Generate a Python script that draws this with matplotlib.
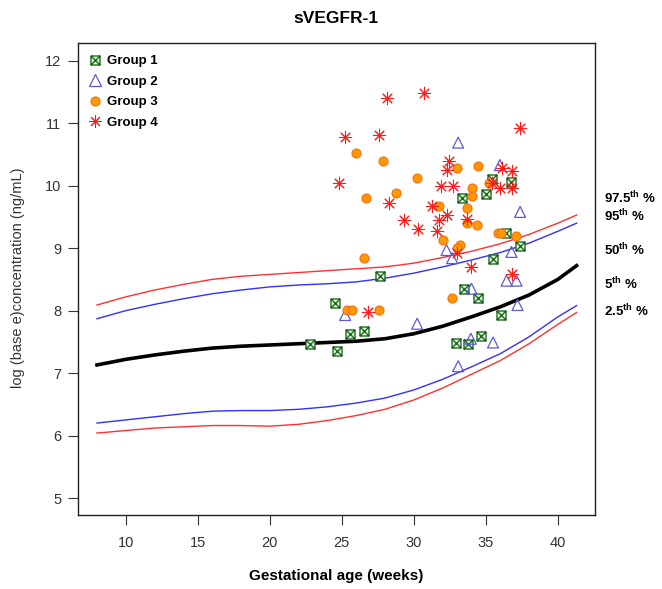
import numpy as np
import matplotlib
matplotlib.use("Agg")
import matplotlib.pyplot as plt
from matplotlib.path import Path
from matplotlib.lines import Line2D

plt.rcParams['font.family'] = ['Liberation Sans', 'DejaVu Sans']
plt.rcParams['mathtext.fontset'] = 'custom'
plt.rcParams['mathtext.rm'] = 'Liberation Sans'
plt.rcParams['mathtext.bf'] = 'Liberation Sans:bold'

# reference curves (gestational age vs log concentration)
curve_x = [8, 10, 12, 14, 16, 18, 20, 22, 24, 26, 28, 30, 32, 34, 36, 38, 40, 41.3]
p50 = [7.13, 7.22, 7.29, 7.35, 7.40, 7.43, 7.45, 7.47, 7.49, 7.51, 7.55, 7.63, 7.75, 7.90, 8.06, 8.25, 8.50, 8.72]
p95 = [7.87, 8.00, 8.10, 8.19, 8.27, 8.33, 8.38, 8.41, 8.43, 8.46, 8.52, 8.60, 8.70, 8.81, 8.93, 9.08, 9.27, 9.40]
p975 = [8.09, 8.22, 8.33, 8.42, 8.50, 8.55, 8.58, 8.61, 8.64, 8.67, 8.70, 8.76, 8.85, 8.95, 9.07, 9.22, 9.40, 9.53]
p5 = [6.20, 6.25, 6.30, 6.35, 6.39, 6.40, 6.40, 6.42, 6.46, 6.52, 6.60, 6.73, 6.90, 7.10, 7.31, 7.58, 7.90, 8.08]
p25 = [6.04, 6.08, 6.12, 6.14, 6.16, 6.16, 6.15, 6.18, 6.24, 6.32, 6.42, 6.57, 6.76, 6.98, 7.20, 7.47, 7.78, 7.97]

# observed samples
g1_x = [22.8, 24.5, 25.6, 26.55, 24.65, 27.64, 33.49, 34.47, 36.04, 32.96, 33.73, 34.65,
        37.38, 35.5, 36.37, 33.33, 35.0, 35.4, 36.76]
g1_y = [7.47, 8.13, 7.62, 7.68, 7.35, 8.55, 8.34, 8.20, 7.93, 7.48, 7.46, 7.60,
        9.04, 8.82, 9.24, 9.80, 9.86, 10.10, 10.06]

g2_x = [33.08, 35.97, 37.38, 36.78, 36.44, 37.13, 37.2, 35.5, 32.27, 32.66, 34.0, 30.23,
        33.96, 33.08, 25.23]
g2_y = [10.69, 10.33, 9.58, 8.94, 8.48, 8.48, 8.09, 7.49, 8.97, 8.84, 8.35, 7.79,
        7.55, 7.11, 7.93]

g3_x = [25.95, 27.87, 30.19, 28.73, 26.67, 26.55, 32.97, 34.47, 34.05, 34.05, 35.23, 31.76,
        33.68, 33.66, 34.4, 32.03, 33.24, 32.97, 35.85, 36.05, 37.06, 32.66, 25.33, 25.74,
        27.59]
g3_y = [10.52, 10.40, 10.13, 9.89, 9.80, 8.85, 10.28, 10.32, 9.96, 9.83, 10.04, 9.68,
        9.65, 9.40, 9.37, 9.13, 9.05, 9.01, 9.25, 9.24, 9.20, 8.21, 8.01, 8.01,
        8.01]

g4_x = [28.17, 25.23, 27.59, 24.81, 28.28, 29.3, 30.3, 30.69, 37.36, 32.45, 32.27, 31.92,
        32.69, 36.09, 36.85, 35.97, 36.85, 31.23, 32.27, 31.76, 33.66, 31.62, 32.97, 33.96,
        36.85, 35.4, 26.83]
g4_y = [11.41, 10.78, 10.81, 10.04, 9.72, 9.45, 9.30, 11.48, 10.92, 10.39, 10.25, 9.99,
        10.00, 10.28, 10.23, 9.96, 9.96, 9.68, 9.53, 9.45, 9.46, 9.28, 8.93, 8.70,
        8.59, 10.05, 7.97]

pct_labels = ["97.5$^{\\mathbf{th}}$ %", "95$^{\\mathbf{th}}$ %", "50$^{\\mathbf{th}}$ %",
              "5$^{\\mathbf{th}}$ %", "2.5$^{\\mathbf{th}}$ %"]
pct_label_y = [9.80, 9.52, 8.97, 8.43, 7.99]

# square with a cross inside (like R pch 7)
box_x = Path([(-1, -1), (1, -1), (1, 1), (-1, 1), (-1, -1), (-1, -1), (1, 1), (-1, 1), (1, -1)],
             [Path.MOVETO, Path.LINETO, Path.LINETO, Path.LINETO, Path.CLOSEPOLY,
              Path.MOVETO, Path.LINETO, Path.MOVETO, Path.LINETO])

fig = plt.figure(figsize=(6.62, 5.89), dpi=100)
ax = fig.add_axes([0.1178, 0.1248, 0.781, 0.8017])

ax.plot(curve_x, p975, color='#ff3030', lw=1.0)
ax.plot(curve_x, p95, color='#3030ff', lw=1.0)
ax.plot(curve_x, p50, color='black', lw=2.6)
ax.plot(curve_x, p5, color='#3030ff', lw=1.0)
ax.plot(curve_x, p25, color='#ff3030', lw=1.0)

ax.scatter(g1_x, g1_y, marker=box_x, s=42, facecolors='#e4f2e4', edgecolors='#1e6b1e',
           linewidths=1.0, zorder=3)
ax.scatter(g2_x, g2_y, marker='^', s=62, facecolors='none', edgecolors='#5b5bd6',
           linewidths=0.9, zorder=3)
ax.scatter(g3_x, g3_y, marker='o', s=42, facecolors='#ff9a00', edgecolors='#ff6a10',
           linewidths=0.8, zorder=3)
ax.scatter(g4_x, g4_y, marker=(8, 2, 0), s=80, color='#ff1a1a', linewidths=0.75, zorder=3)

handles = [
    Line2D([], [], ls='none', marker=box_x, ms=6.5, mfc='#e4f2e4', mec='#1e6b1e', mew=1.0),
    Line2D([], [], ls='none', marker='^', ms=8, mfc='none', mec='#5b5bd6', mew=0.9),
    Line2D([], [], ls='none', marker='o', ms=6.5, mfc='#ff9a00', mec='#ff6a10', mew=0.8),
    Line2D([], [], ls='none', marker=(8, 2, 0), ms=9, color='#ff1a1a', mew=0.75),
]
ax.legend(handles, ['Group 1', 'Group 2', 'Group 3', 'Group 4'], loc='upper left',
          frameon=False, prop={'weight': 'bold', 'size': 9.5}, handletextpad=0.5,
          labelspacing=0.62, borderaxespad=0.0, borderpad=0.9, handlelength=0.8)

ax.set_xlim(6.68, 42.58)
ax.set_ylim(4.72, 12.28)
ax.set_xticks([10, 15, 20, 25, 30, 35, 40])
ax.set_yticks([5, 6, 7, 8, 9, 10, 11, 12])
ax.tick_params(direction='out', length=7, width=0.8, labelsize=10.5, colors='#333333',
               labelcolor='#333333')
ax.tick_params(axis='x', pad=8)
ax.tick_params(axis='y', pad=5)
for s in ax.spines.values():
    s.set_linewidth(1.0)
    s.set_color('#222222')

for lab, yy in zip(pct_labels, pct_label_y):
    ax.text(1.018, yy, lab, transform=ax.get_yaxis_transform(), fontsize=9.5,
            fontweight='bold', va='center', ha='left', clip_on=False)

fig.text(0.508, 0.969, 'sVEGFR-1', ha='center', va='center', fontsize=12.5, fontweight='bold')
fig.text(0.508, 0.022, 'Gestational age (weeks)', ha='center', va='center', fontsize=11,
         fontweight='bold')
fig.text(0.027, 0.528, 'log (base e)concentration (ng/mL)', ha='center', va='center',
         rotation=90, fontsize=10.5, color='#333333')

fig.savefig('out.png', dpi=100)
